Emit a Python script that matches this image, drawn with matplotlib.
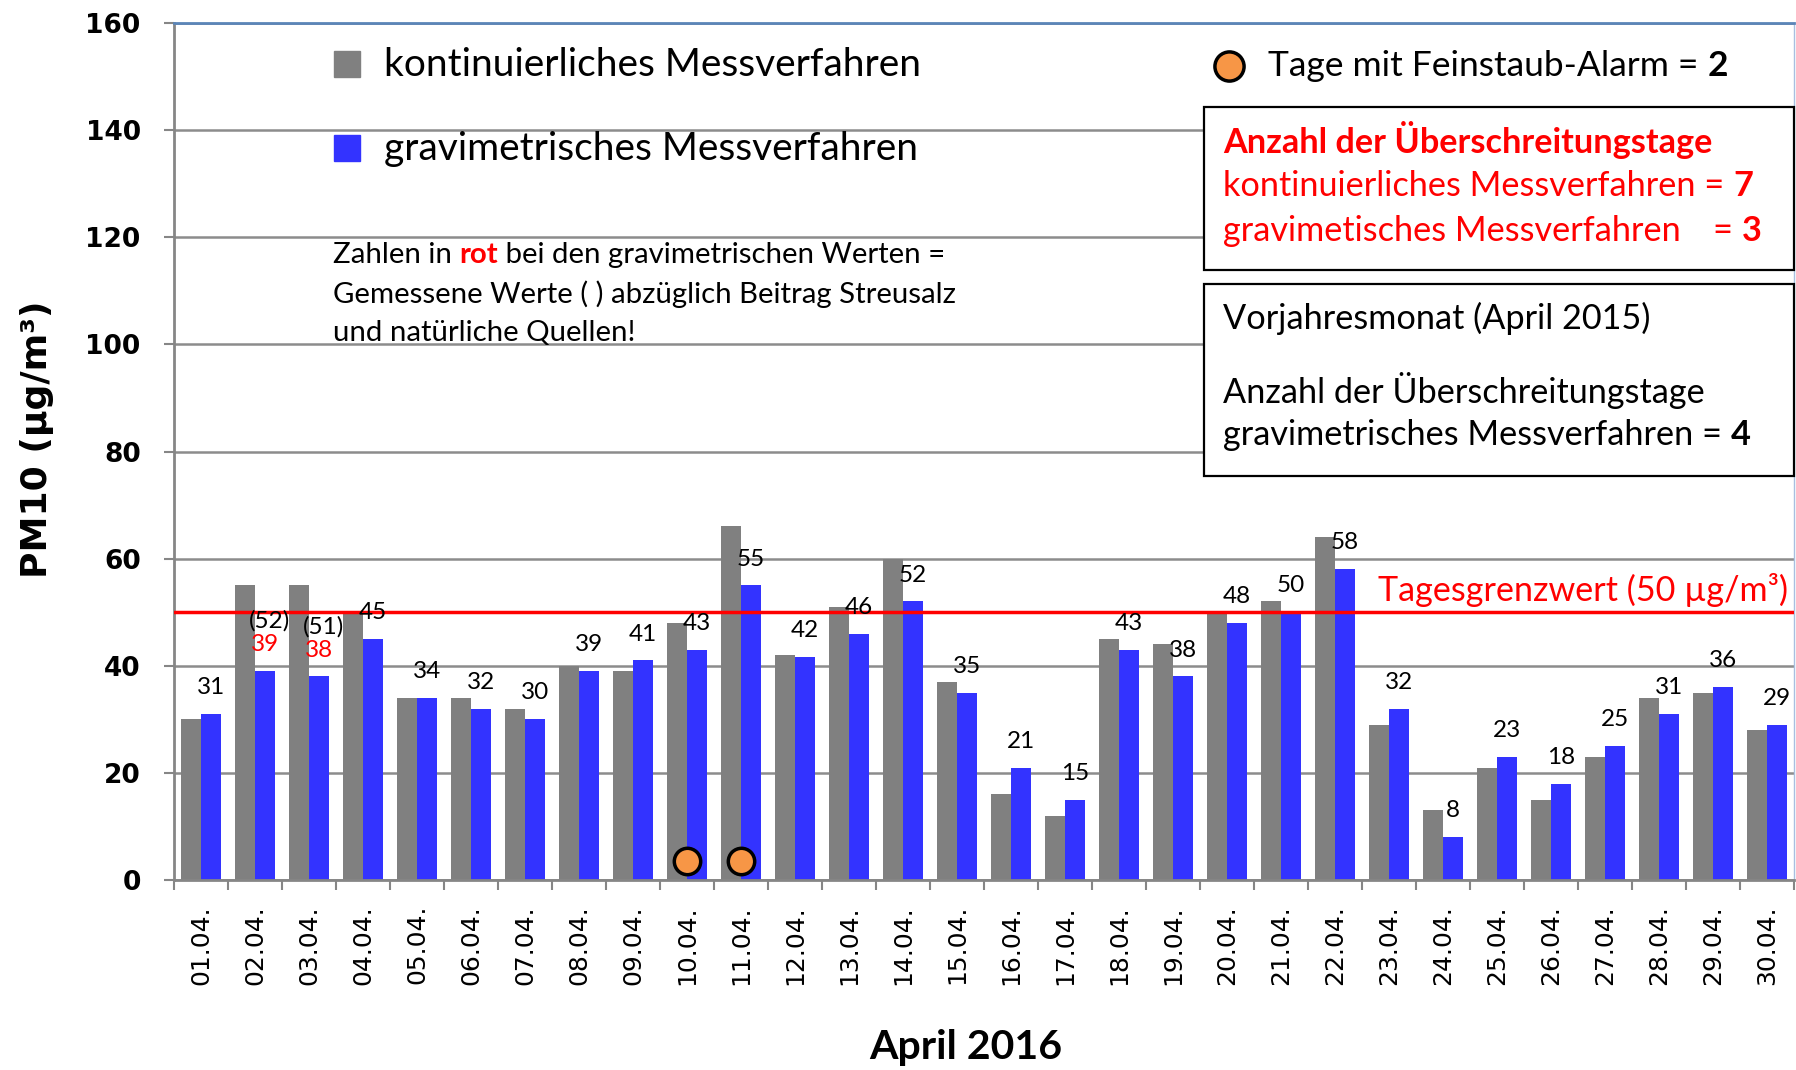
import matplotlib
matplotlib.use("Agg")
from matplotlib import pyplot as plt
from matplotlib.patches import Rectangle
from matplotlib.text import Annotation
import numpy as np

W, H = 1796, 1070

tage = ['%02d.04.' % d for d in range(1, 31)]
kontinuierlich = [30, 55, 55, 50, 34, 34, 32, 40, 39, 48, 66, 42, 51, 60, 37,
                  16, 12, 45, 44, 50, 52, 64, 29, 13, 21, 15, 23, 34, 35, 28]
gravimetrisch = [31, 39, 38, 45, 34, 32, 30, 39, 41, 43, 55, 41.6, 46, 52, 35,
                 21, 15, 43, 38, 48, 50, 58, 32, 8, 23, 18, 25, 31, 36, 29]
# gravimetric values corrected for road salt / natural sources (red labels)
korrigiert_idx = [1, 2]
gemessen = [52, 51]
alarm_idx = [9, 10]
alarm_y = 3.5
grenzwert = 50

GRAU = '#808080'
BLAU = '#3333ff'
ROT = '#ff0000'
ORANGE = '#f79646'
ACHSE = '#868686'
TXT = 'Lato'
FS_BOX = 24.7


def fx(px):
    return px / W


def fy(py):
    return 1 - py / H


def chain(prev, s, **kw):
    # append a text piece right after the previous one (figure level)
    a = Annotation(s, xy=(1, 0), xycoords=prev, ha='left', va='bottom',
                   annotation_clip=False, **kw)
    fig.add_artist(a)
    return a


fig = plt.figure(figsize=(W / 100, H / 100), dpi=100)
ax = fig.add_axes([fx(174), fy(880), (1794 - 174) / W, (880 - 23) / H])

x = np.arange(len(tage))
bw = 0.37
ax.bar(x - bw / 2, kontinuierlich, bw, color=GRAU, zorder=2)
ax.bar(x + bw / 2, gravimetrisch, bw, color=BLAU, zorder=2)
ax.axhline(grenzwert, color=ROT, lw=2.5, zorder=3)

for i, v in enumerate(gravimetrisch):
    c = ROT if i in korrigiert_idx else 'black'
    ax.annotate('%.0f' % v, (i + bw / 2, v), xytext=(0, 19),
                textcoords='offset points', ha='center', va='center',
                fontsize=17.5, family=TXT, color=c, zorder=5)
for i, g in zip(korrigiert_idx, gemessen):
    ax.annotate('(%d)' % g, (i + bw / 2, gravimetrisch[i]), xytext=(3, 36),
                textcoords='offset points', ha='center', va='center',
                fontsize=17.5, family=TXT, color='black', zorder=5)

ax.plot(alarm_idx, [alarm_y] * len(alarm_idx), 'o', ms=19, mfc=ORANGE,
        mec='black', mew=2.5, zorder=4, clip_on=False)

ax.set_xlim(-0.5, len(tage) - 0.5)
ax.set_ylim(0, 160)
ax.set_yticks(range(0, 161, 20))
ax.yaxis.grid(True, color='#8c8c8c', lw=1.8)
ax.set_axisbelow(True)

ax.set_xticks(x)
ax.set_xticklabels(tage, rotation=90, fontsize=18, family='DejaVu Sans')
ax.set_xticks(np.arange(-0.5, len(tage), 1), minor=True)
ax.tick_params(axis='x', which='major', length=0, pad=18)
ax.tick_params(axis='x', which='minor', length=7, width=1.5, color=ACHSE)
ax.tick_params(axis='y', length=7, width=1.5, color=ACHSE, pad=17)
for lab in ax.get_yticklabels():
    lab.set_fontsize(19)
    lab.set_fontweight('bold')
    lab.set_family('DejaVu Sans')

for s in ['left', 'bottom']:
    ax.spines[s].set_color(ACHSE)
    ax.spines[s].set_linewidth(2)
ax.spines['top'].set_color('#5b85b8')
ax.spines['top'].set_linewidth(2)
ax.spines['right'].set_color('#a8bfe0')
ax.spines['right'].set_linewidth(1)

fig.text(fx(37), fy(439), 'PM10 (µg/m³)', rotation=90, ha='center',
         va='center', fontsize=26, fontweight='bold', family='DejaVu Sans')
fig.text(fx(966), fy(1048), 'April 2016', ha='center', va='center',
         fontsize=29.5, fontweight='bold', family=TXT)

# legend
for py, col, lab in [(65, GRAU, 'kontinuierliches Messverfahren'),
                     (149, BLAU, 'gravimetrisches Messverfahren')]:
    fig.patches.append(Rectangle((fx(334), fy(py + 12)), 26 / W, 26 / H,
                                 transform=fig.transFigure, color=col,
                                 zorder=5))
    fig.text(fx(384), fy(py), lab, ha='left', va='center', fontsize=28,
             family=TXT)

# note
t = fig.text(fx(333), fy(255), 'Zahlen in ', ha='left', va='center',
             fontsize=21.2, family=TXT)
t = chain(t, 'rot', fontsize=21.2, family=TXT, color=ROT, fontweight='bold')
chain(t, ' bei den gravimetrischen Werten =', fontsize=21.2, family=TXT)
fig.text(fx(333), fy(294), 'Gemessene Werte ( ) abzüglich Beitrag Streusalz',
         ha='left', va='center', fontsize=21.2, family=TXT)
fig.text(fx(333), fy(333), 'und natürliche Quellen!', ha='left', va='center',
         fontsize=21.2, family=TXT)

# alarm legend
fig.lines.append(plt.Line2D([fx(1229)], [fy(66)], marker='o', ms=21,
                            mfc=ORANGE, mec='black', mew=2.5,
                            transform=fig.transFigure))
t = fig.text(fx(1268), fy(66), 'Tage mit Feinstaub-Alarm = ', ha='left',
             va='center', fontsize=25.5, family=TXT)
chain(t, '2', fontsize=25.5, family=TXT, fontweight='bold')

# boxes
for top, bot in [(107, 270), (284, 476)]:
    fig.patches.append(Rectangle((fx(1204), fy(bot)), (1794 - 1204) / W,
                                 (bot - top) / H, transform=fig.transFigure,
                                 facecolor='white', edgecolor='black', lw=1.6,
                                 zorder=5))

fig.text(fx(1223), fy(140), 'Anzahl der Überschreitungstage', ha='left',
         va='center', fontsize=FS_BOX, family=TXT, color=ROT,
         fontweight='bold', zorder=6)
t = fig.text(fx(1223), fy(186), 'kontinuierliches Messverfahren = ',
             ha='left', va='center', fontsize=FS_BOX, family=TXT, color=ROT,
             zorder=6)
chain(t, '7', fontsize=FS_BOX, family=TXT, color=ROT, fontweight='bold',
      zorder=6)
fig.text(fx(1223), fy(231), 'gravimetisches Messverfahren', ha='left',
         va='center', fontsize=FS_BOX, family=TXT, color=ROT, zorder=6)
t = fig.text(fx(1713), fy(231), '= ', ha='left', va='center',
             fontsize=FS_BOX, family=TXT, color=ROT, zorder=6)
chain(t, '3', fontsize=FS_BOX, family=TXT, color=ROT, fontweight='bold',
      zorder=6)

fig.text(fx(1223), fy(318), 'Vorjahresmonat (April 2015)', ha='left',
         va='center', fontsize=FS_BOX, family=TXT, zorder=6)
fig.text(fx(1223), fy(391), 'Anzahl der Überschreitungstage', ha='left',
         va='center', fontsize=FS_BOX, family=TXT, zorder=6)
t = fig.text(fx(1223), fy(435), 'gravimetrisches Messverfahren = ',
             ha='left', va='center', fontsize=FS_BOX, family=TXT, zorder=6)
chain(t, '4', fontsize=FS_BOX, family=TXT, fontweight='bold', zorder=6)

fig.text(fx(1378), fy(590), 'Tagesgrenzwert (50 µg/m³)', ha='left',
         va='center', fontsize=24.6, family=TXT, color=ROT)

fig.savefig('out.png', dpi=100)
